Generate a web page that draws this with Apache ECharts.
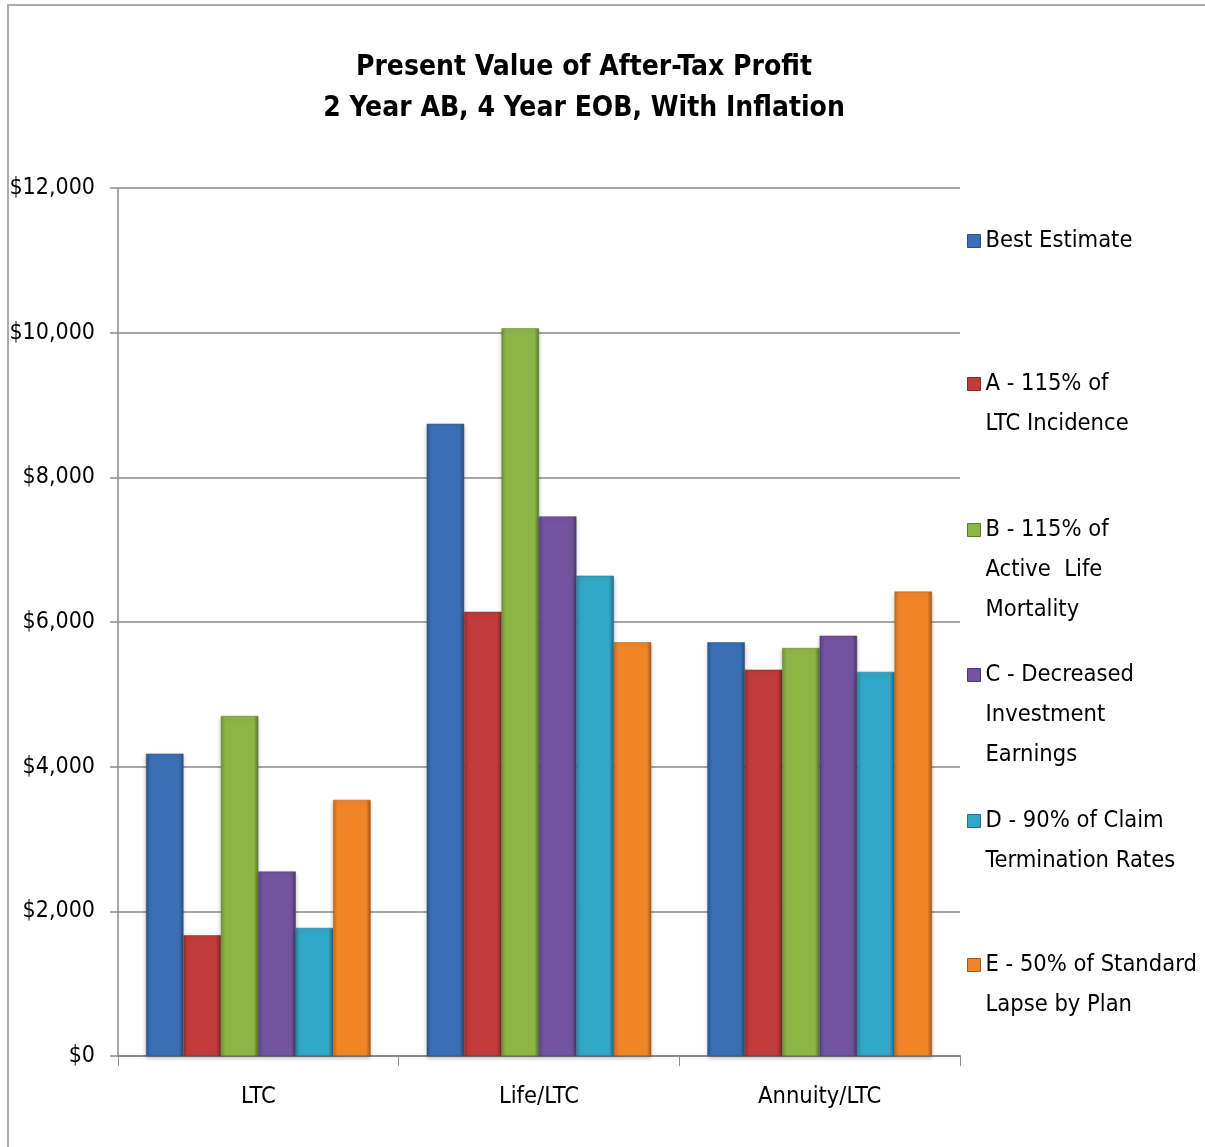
<!DOCTYPE html>
<html>
<head>
<meta charset="utf-8">
<script src="https://cdn.jsdelivr.net/npm/echarts@6/dist/echarts.min.js"></script>
<style>
html,body{margin:0;padding:0;background:#fff;}
#chart{width:1205px;height:1147px;}
</style>
</head>
<body>
<div id="chart"></div>
<script>
var titleLines = ['Present Value of After-Tax Profit', '2 Year AB, 4 Year EOB, With Inflation'];
var categories = ['LTC', 'Life/LTC', 'Annuity/LTC'];
var seriesNames = [
  'Best Estimate',
  'A - 115% of\nLTC Incidence',
  'B - 115% of\nActive  Life\nMortality',
  'C - Decreased\nInvestment\nEarnings',
  'D - 90% of Claim\nTermination Rates',
  'E - 50% of Standard\nLapse by Plan'
];
var bestEstimate = [4180, 8740, 5720];
var scenarioA = [1670, 6140, 5340];
var scenarioB = [4700, 10060, 5640];
var scenarioC = [2550, 7460, 5810];
var scenarioD = [1770, 6640, 5310];
var scenarioE = [3540, 5720, 6420];
var yTicks = [0, 2000, 4000, 6000, 8000, 10000, 12000];

var seriesData = [bestEstimate, scenarioA, scenarioB, scenarioC, scenarioD, scenarioE];
var palette = [
  ['#4A84CC', '#3A6FB6', '#2C5892', '#28507F'],
  ['#D9504F', '#C03B3B', '#9F2D2E', '#86292A'],
  ['#A3CC5A', '#8DB545', '#74943A', '#5F7A30'],
  ['#8566B5', '#72549E', '#5C4484', '#4C386E'],
  ['#45BEDD', '#32A6C5', '#2A8AA6', '#236F86'],
  ['#FB9A42', '#F08527', '#CC6E1F', '#A8591A']
];
var FONT = "'DejaVu Sans Condensed','Liberation Sans Narrow',sans-serif";

var chart = echarts.init(document.getElementById('chart'));

var series = seriesNames.map(function (name, i) {
  var c = palette[i];
  return {
    name: name,
    type: 'bar',
    data: seriesData[i],
    barGap: '0%',
    barCategoryGap: '20%',
    itemStyle: {
      color: new echarts.graphic.LinearGradient(0, 0, 1, 0, [
        {offset: 0, color: c[2]},
        {offset: 0.12, color: c[1]},
        {offset: 0.5, color: c[1]},
        {offset: 0.88, color: c[1]},
        {offset: 1, color: c[3]}
      ]),
      borderColor: c[3],
      borderWidth: 0.5,
      shadowColor: 'rgba(0,0,0,0.25)',
      shadowBlur: 4,
      shadowOffsetY: 2
    },
    emphasis: {disabled: true}
  };
});

// legend: one block per series, first line of each block at fixed slot
var legendFirstLineY = [236, 379, 525, 670, 816, 960];
var LH = 40;
var legends = seriesNames.map(function (name, i) {
  var n = name.split('\n').length;
  return {
    orient: 'vertical',
    left: 962,
    top: legendFirstLineY[i] - (2 * n - 1) * LH / 2,
    data: [{name: name, itemStyle: {color: palette[i][1], borderColor: palette[i][3], borderWidth: 1}}],
    itemWidth: 13,
    itemHeight: 13,
    itemGap: 0,
    icon: 'rect',
    selectedMode: false,
    formatter: function (s) {
      var k = s.split('\n').length;
      return new Array(k).join('\n') + s;
    },
    textStyle: {fontFamily: FONT, fontSize: 23.5, color: '#000', lineHeight: LH}
  };
});

chart.setOption({
  animation: false,
  backgroundColor: '#fff',
  title: {
    text: titleLines.join('\n'),
    left: 579,
    top: 42,
    textAlign: 'center',
    textStyle: {fontFamily: FONT, fontWeight: 'bold', fontSize: 28, lineHeight: 41, color: '#000'}
  },
  legend: legends,
  grid: {left: 118, right: 245, top: 188, bottom: 91, containLabel: false},
  xAxis: {
    type: 'category',
    data: categories,
    axisLine: {lineStyle: {color: '#8C8C8C', width: 2}},
    axisTick: {show: true, length: 10, lineStyle: {color: '#8C8C8C', width: 1}},
    axisLabel: {fontFamily: FONT, fontSize: 23.5, color: '#000', margin: 29}
  },
  yAxis: {
    type: 'value',
    min: yTicks[0],
    max: yTicks[yTicks.length - 1],
    interval: yTicks[1] - yTicks[0],
    axisLine: {show: true, lineStyle: {color: '#8C8C8C', width: 1.5}},
    axisTick: {show: true, length: 8, lineStyle: {color: '#8C8C8C', width: 1.5}},
    splitLine: {lineStyle: {color: '#A6A6A6', width: 2}},
    axisLabel: {
      fontFamily: FONT, fontSize: 23, color: '#000', margin: 23,
      formatter: function (v) { return '$' + v.toLocaleString('en-US'); }
    }
  },
  graphic: [{
    type: 'rect',
    shape: {x: 8, y: 5, width: 1400, height: 1400},
    style: {fill: 'none', stroke: '#ABABAB', lineWidth: 2},
    silent: true,
    z: -10
  }],
  series: series
});
</script>
</body>
</html>
